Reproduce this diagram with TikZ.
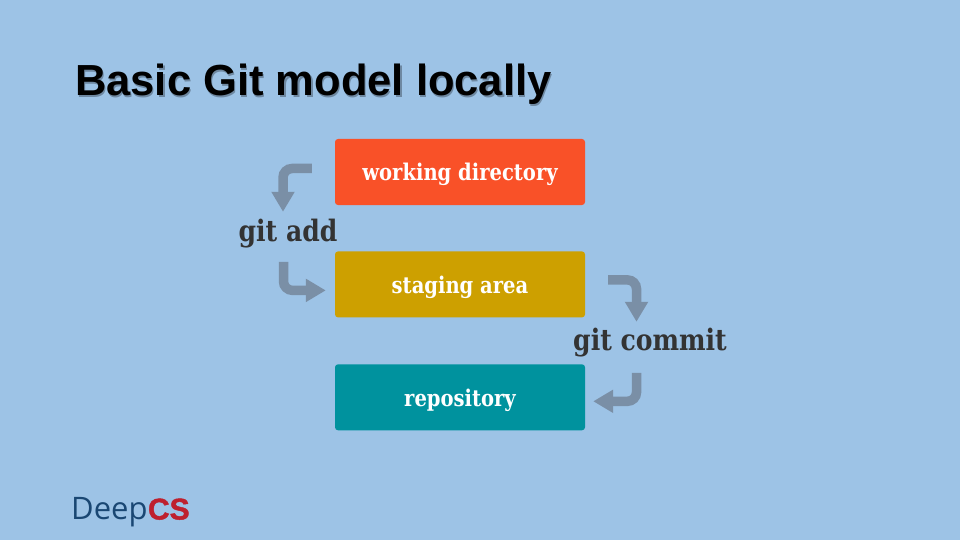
\documentclass[tikz,border=0pt]{standalone}
\usepackage{fontspec}
\setmainfont{Liberation Sans}
\newfontfamily\slabfont[FakeStretch=0.85]{DejaVu Serif}
\newfontfamily\logofont{Open Sans}
\newfontfamily\logoheavy[BoldFeatures={FakeBold=1.5}]{Liberation Sans}
\usetikzlibrary{arrows.meta, calc, positioning}
\definecolor{slideblue}{RGB}{157,195,230}
\definecolor{boxred}{RGB}{249,81,40}
\definecolor{boxgold}{RGB}{205,160,0}
\definecolor{boxteal}{RGB}{0,146,158}
\definecolor{flowgray}{RGB}{122,143,166}
\definecolor{cmdink}{RGB}{51,51,51}
\definecolor{logoblue}{RGB}{26,71,115}
\definecolor{logored}{RGB}{190,32,46}
\tikzset{
    areabox/.style={rounded corners=3pt, minimum width=250pt, minimum height=66pt, inner sep=0pt, text=white,
        text height=18pt, text depth=0pt, font=\slabfont\bfseries\fontsize{23}{26}\selectfont},
    gitcmd/.style={inner sep=0pt, text=cmdink, font=\slabfont\bfseries\fontsize{29.5}{32}\selectfont},
    flowarrow/.style={draw=flowgray, line width=9.5pt, rounded corners=9pt, -{Triangle[length=20pt, width=22pt]}},
    slidetitle/.style={inner sep=0pt, font=\bfseries\fontsize{43.5}{48}\selectfont}
}

\begin{document}
\begin{tikzpicture}[x=1pt, y=-1pt]
    \fill[slideblue] (0,0) rectangle (960,540);

    % Title with its soft shadow
    \node[slidetitle, anchor=base west, text=black!30!slideblue] (titleshadow) at (76.2,97.2) {Basic Git model locally};
    \node[slidetitle, anchor=base west] (title) at (75,96) {Basic Git model locally};

    % The three areas
    \node[areabox, fill=boxred] (workdir) at (460,172) {working directory};
    \node[areabox, fill=boxgold, below=46pt of workdir] (staging) {staging area};
    \node[areabox, fill=boxteal, below=46.5pt of staging] (repo) {repository};

    % Commands
    \node[gitcmd, anchor=base] (gitadd) at (288,241) {git add};
    \node[gitcmd, anchor=base] (gitcommit) at (650,350) {git commit};

    % Left side: into the staging area
    \draw[flowarrow] ([xshift=-23pt, yshift=3.5pt]workdir.west) -| ([xshift=-5pt, yshift=6.6pt]gitadd.north);
    \draw[flowarrow] ([xshift=-4.5pt, yshift=-14pt]gitadd.south) |- ([xshift=-9pt, yshift=-6pt]staging.west);

    % Right side: into the repository
    \draw[flowarrow] ([xshift=23pt, yshift=4.5pt]staging.east) -| ([xshift=-13.5pt, yshift=5.6pt]gitcommit.north);
    \draw[flowarrow] ([xshift=-13.5pt, yshift=-16pt]gitcommit.south) |- ([xshift=8pt, yshift=-4pt]repo.east);

    % Logo
    \node[anchor=base west, inner sep=0pt, text=logoblue, font=\logofont\fontsize{31}{36}\selectfont] (logodeep) at (71,519.5) {Deep};
    \node[right=0pt of logodeep.base east, anchor=base west, inner sep=0pt, text=logored, font=\logoheavy\bfseries\fontsize{30}{36}\selectfont] (logocs) {CS};
\end{tikzpicture}
\end{document}
